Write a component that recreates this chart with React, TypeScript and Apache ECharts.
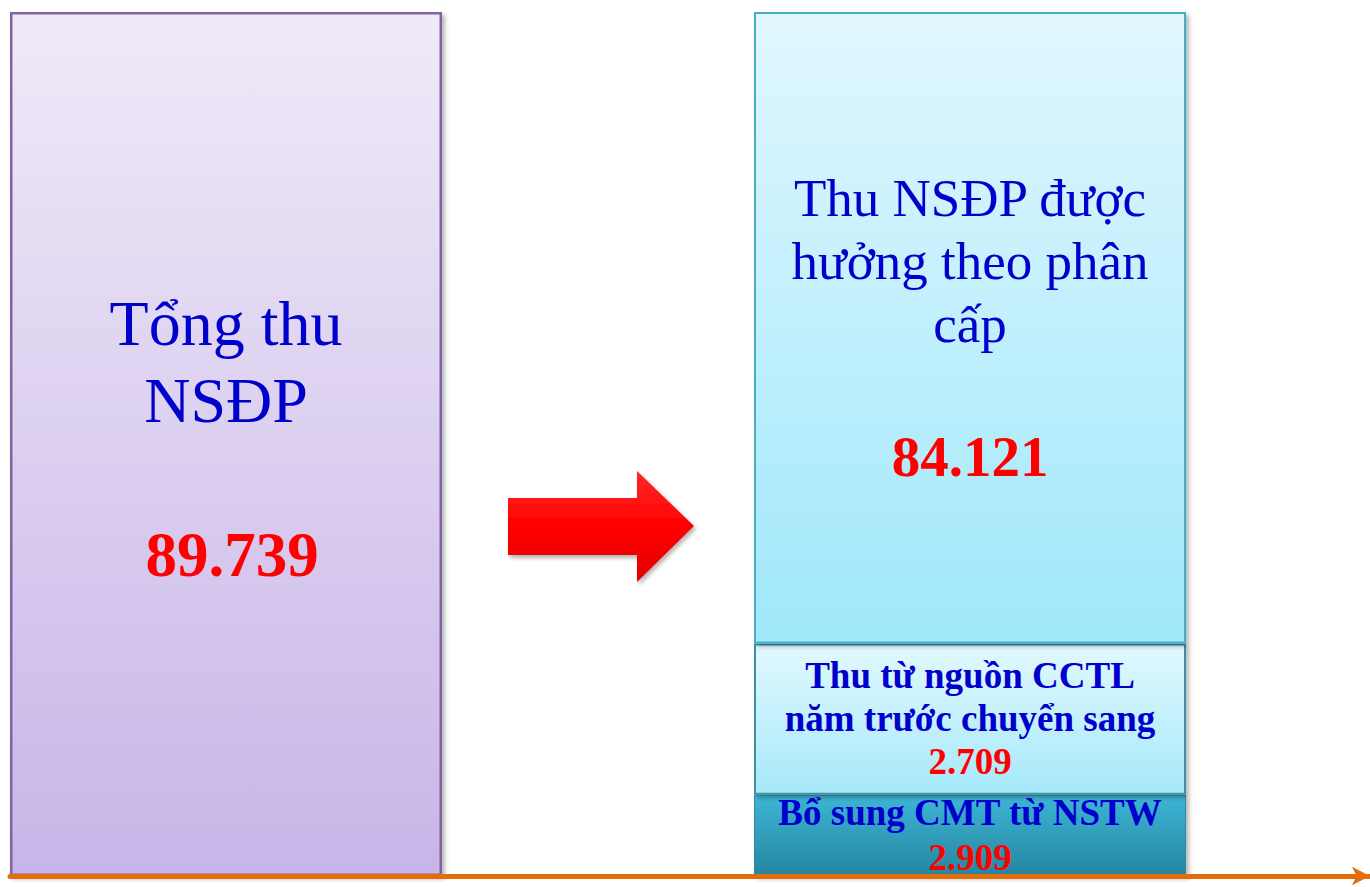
import React, { useEffect, useRef } from "react";
import * as echarts from "echarts";

// ---- data ----
const categories = ["Tổng thu NSĐP", "", "Thu NSĐP"];
const seriesNames = [
  "Tổng thu NSĐP",
  "Bổ sung CMT từ NSTW",
  "Thu từ nguồn CCTL năm trước chuyển sang",
  "Thu NSĐP được hưởng theo phân cấp",
];
const totalValue = 89739; // tỷ đồng
const partValues = [2909, 2709, 84121]; // bottom -> top
// segment heights as drawn in the picture (same units as total)
const partHeights = [8440, 15700, 65599];

const leftTitleLines = ["Tổng thu", "NSĐP"];
const partTitleLines = [
  ["Bổ sung CMT từ NSTW"],
  ["Thu từ nguồn CCTL", "năm trước chuyển sang"],
  ["Thu NSĐP được", "hưởng theo phân", "cấp"],
];

const fmt = (v: number) => String(v).replace(/\B(?=(\d{3})+(?!\d))/g, ".");
const FONT = "'Liberation Serif', 'Times New Roman', serif";
const BLUE = "#0000CC";
const RED = "#FF0000";

const grad = (a: string, b: string) => ({
  type: "linear",
  x: 0,
  y: 0,
  x2: 0,
  y2: 1,
  colorStops: [
    { offset: 0, color: a },
    { offset: 1, color: b },
  ],
});

const shadow = {
  shadowColor: "rgba(0,0,0,0.28)",
  shadowBlur: 4,
  shadowOffsetX: 3,
  shadowOffsetY: 3,
};

export default function App() {
  const ref = useRef<HTMLDivElement>(null);
  useEffect(() => {
    if (!ref.current) return;
    const chart = echarts.init(ref.current, undefined, { renderer: "svg" });

    const leftLabel = {
      show: true,
      position: "inside",
      offset: [0, -5],
      formatter: () =>
        leftTitleLines.map((l) => `{t|${l}}`).join("\n") + `\n{t| }\n{v|${fmt(totalValue)}}`,
      rich: {
        t: { fontFamily: FONT, fontSize: 64, lineHeight: 77, color: BLUE },
        v: { fontFamily: FONT, fontSize: 63, fontWeight: "bold", lineHeight: 77, color: RED, padding: [0, 0, 0, 12] },
      },
    };

    const partLabels = [
      {
        show: true,
        position: "inside",
        offset: [0, 0],
        formatter: () =>
          partTitleLines[0].map((l) => `{t|${l}}`).join("\n") + `\n{v|${fmt(partValues[0])}}`,
        rich: {
          t: { fontFamily: FONT, fontSize: 37, fontWeight: "bold", lineHeight: 45, color: BLUE },
          v: { fontFamily: FONT, fontSize: 37, fontWeight: "bold", lineHeight: 45, color: RED },
        },
      },
      {
        show: true,
        position: "inside",
        offset: [0, -1],
        formatter: () =>
          partTitleLines[1].map((l) => `{t|${l}}`).join("\n") + `\n{v|${fmt(partValues[1])}}`,
        rich: {
          t: { fontFamily: FONT, fontSize: 37, fontWeight: "bold", lineHeight: 43, color: BLUE },
          v: { fontFamily: FONT, fontSize: 37, fontWeight: "bold", lineHeight: 43, color: RED },
        },
      },
      {
        show: true,
        position: "inside",
        offset: [0, 3],
        formatter: () =>
          partTitleLines[2].map((l) => `{t|${l}}`).join("\n") + `\n{t| }\n{v|${fmt(partValues[2])}}`,
        rich: {
          t: { fontFamily: FONT, fontSize: 53, lineHeight: 63, color: BLUE },
          v: { fontFamily: FONT, fontSize: 57, fontWeight: "bold", lineHeight: 77, color: RED },
        },
      },
    ];

    const partStyles = [
      { color: grad("#3DB5D5", "#2686A0"), borderColor: "#2E8AA2", borderWidth: 1, ...shadow },
      { color: grad("#E2F8FE", "#A6E9FA"), borderColor: "#3F8FA5", borderWidth: 2, ...shadow },
      { color: grad("#E1F7FE", "#A0E8FB"), borderColor: "#4BACC6", borderWidth: 2, ...shadow },
    ];

    const option: any = {
      animation: false,
      backgroundColor: "#FFFFFF",
      grid: [
        { left: 40, right: 214, top: 12, bottom: 11, containLabel: false },
        { left: 10, right: -6, top: 12, bottom: 11, containLabel: false },
      ],
      xAxis: [
        {
          type: "category",
          gridIndex: 0,
          data: categories,
          axisLine: { show: false },
          axisTick: { show: false },
          axisLabel: { show: false },
          splitLine: { show: false },
        },
        {
          type: "category",
          gridIndex: 1,
          data: [""],
          z: 10,
          axisLine: {
            show: true,
            lineStyle: { color: "#E46C0A", width: 5 },
            symbol: ["none", "arrow"],
            symbolSize: [14, 18],
          },
          axisTick: { show: false },
          axisLabel: { show: false },
          splitLine: { show: false },
        },
      ],
      yAxis: [
        { type: "value", gridIndex: 0, min: 0, max: totalValue, show: false, splitLine: { show: false } },
        { type: "value", gridIndex: 1, min: 0, max: totalValue, show: false, splitLine: { show: false } },
      ],
      series: [
        {
          name: seriesNames[0],
          type: "bar",
          clip: false,
          barWidth: 432,
          barGap: "-100%",
          data: [totalValue, "-", "-"],
          itemStyle: {
            color: grad("#F0EAF8", "#C8B5E8"),
            borderColor: "#8064A2",
            borderWidth: 2.5,
            ...shadow,
          },
          label: leftLabel,
        },
        ...partHeights.map((h, i) => ({
          name: seriesNames[i + 1],
          type: "bar",
          clip: false,
          stack: "right",
          barWidth: 432,
          barGap: "-100%",
          data: ["-", "-", h],
          itemStyle: partStyles[i],
          label: partLabels[i],
        })),
      ],
      graphic: [
        {
          type: "polygon",
          z: 20,
          shape: {
            points: [
              [508, 498],
              [637, 498],
              [637, 471],
              [694, 526],
              [637, 582],
              [637, 555],
              [508, 555],
            ],
          },
          style: {
            fill: {
              type: "linear",
              x: 0,
              y: 0,
              x2: 0,
              y2: 1,
              colorStops: [
                { offset: 0, color: "#FF2A2A" },
                { offset: 0.5, color: "#FF0000" },
                { offset: 1, color: "#E00000" },
              ],
            },
            shadowColor: "rgba(0,0,0,0.3)",
            shadowBlur: 4,
            shadowOffsetX: 2,
            shadowOffsetY: 3,
          },
        },
      ],
    };
    chart.setOption(option);
    return () => chart.dispose();
  }, []);
  return (
    <div
      ref={ref}
      style={{ position: "fixed", left: 0, top: 0, width: 1370, height: 887, background: "#fff" }}
    />
  );
}
